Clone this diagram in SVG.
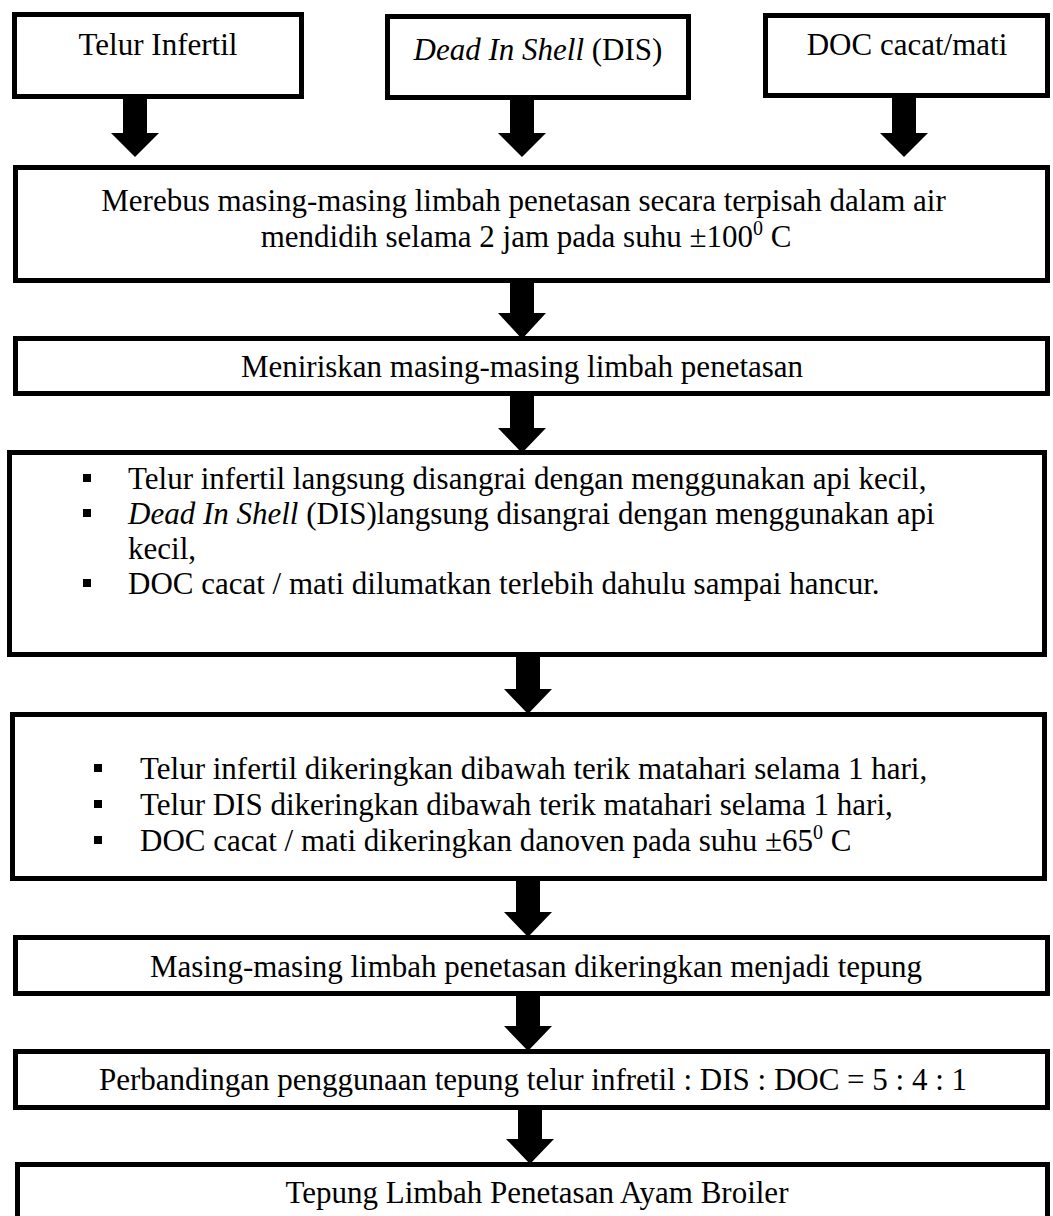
<svg xmlns="http://www.w3.org/2000/svg" width="1053" height="1216" viewBox="0 0 1053 1216">
<style>
.box{fill:#fff;stroke:#000;stroke-width:5}
.t{font-family:"Liberation Serif","Times New Roman",serif;font-size:31px;fill:#000}
.c{text-anchor:middle}
.i{font-style:italic}
.sup{font-size:20px}
.arr{fill:#000}
.bul{fill:#000}
</style>
<rect width="1053" height="1216" fill="#fff"/>
<g id="n1"><rect class="box" x="14.5" y="14.5" width="287" height="82"/><text class="t c" x="158" y="55">Telur Infertil</text></g>
<g id="n2"><rect class="box" x="387.5" y="16.5" width="301" height="81"/><text class="t c" x="538" y="60"><tspan class="i">Dead In Shell</tspan> (DIS)</text></g>
<g id="n3"><rect class="box" x="765.5" y="15.5" width="282" height="80"/><text class="t c" x="907" y="55">DOC cacat/mati</text></g>
<g id="n4"><rect class="box" x="15.5" y="167.5" width="1032" height="113"/>
<text class="t c" x="523.5" y="211">Merebus masing-masing limbah penetasan secara terpisah dalam air</text>
<text class="t c" x="526" y="247">mendidih selama 2 jam pada suhu ±100<tspan class="sup" dy="-12">0</tspan><tspan dy="12"> C</tspan></text></g>
<g id="n5"><rect class="box" x="15.5" y="338.5" width="1032" height="55"/><text class="t c" x="522" y="377">Meniriskan masing-masing limbah penetasan</text></g>
<g id="n6"><rect class="box" x="9.5" y="452.5" width="1035" height="202"/>
<rect class="bul" x="83" y="474" width="8" height="8"/>
<rect class="bul" x="83" y="509" width="8" height="8"/>
<rect class="bul" x="83" y="579" width="8" height="8"/>
<text class="t" x="128" y="489">Telur infertil langsung disangrai dengan menggunakan api kecil,</text>
<text class="t" x="128" y="524"><tspan class="i">Dead In Shell</tspan> (DIS)langsung disangrai dengan menggunakan api</text>
<text class="t" x="128" y="559">kecil,</text>
<text class="t" x="128" y="594">DOC cacat / mati dilumatkan terlebih dahulu sampai hancur.</text></g>
<g id="n7"><rect class="box" x="12.5" y="714.5" width="1032" height="164"/>
<rect class="bul" x="94" y="764" width="8" height="8"/>
<rect class="bul" x="94" y="800" width="8" height="8"/>
<rect class="bul" x="94" y="836" width="8" height="8"/>
<text class="t" x="140" y="779">Telur infertil dikeringkan dibawah terik matahari selama 1 hari,</text>
<text class="t" x="140" y="815">Telur DIS dikeringkan dibawah terik matahari selama 1 hari,</text>
<text class="t" x="140" y="851">DOC cacat / mati dikeringkan danoven pada suhu ±65<tspan class="sup" dy="-12">0</tspan><tspan dy="12"> C</tspan></text></g>
<g id="n8"><rect class="box" x="15.5" y="937.5" width="1032" height="56"/><text class="t c" x="536" y="977">Masing-masing limbah penetasan dikeringkan menjadi tepung</text></g>
<g id="n9"><rect class="box" x="15.5" y="1051.5" width="1032" height="56"/><text class="t c" x="533" y="1090">Perbandingan penggunaan tepung telur infretil : DIS : DOC = 5 : 4 : 1</text></g>
<g id="n10"><rect class="box" x="17.5" y="1164.5" width="1030" height="80"/><text class="t c" x="537" y="1203">Tepung Limbah Penetasan Ayam Broiler</text></g>
<g id="connectors">
<polygon class="arr" points="123,99 147,99 147,133 159,133 135,157 111,133 123,133"/>
<polygon class="arr" points="510,100 534,100 534,133 546,133 522,157 498,133 510,133"/>
<polygon class="arr" points="892,98 916,98 916,133 928,133 904,157 880,133 892,133"/>
<polygon class="arr" points="510,283 534,283 534,313 546,313 522,339 498,313 510,313"/>
<polygon class="arr" points="510,396 534,396 534,428 546,428 522,453 498,428 510,428"/>
<polygon class="arr" points="516,657 540,657 540,689 552,689 528,714 504,689 516,689"/>
<polygon class="arr" points="516,881 540,881 540,912 552,912 528,937 504,912 516,912"/>
<polygon class="arr" points="516,996 540,996 540,1026 552,1026 528,1051 504,1026 516,1026"/>
<polygon class="arr" points="518,1110 542,1110 542,1139 554,1139 530,1164 506,1139 518,1139"/>
</g>
</svg>
